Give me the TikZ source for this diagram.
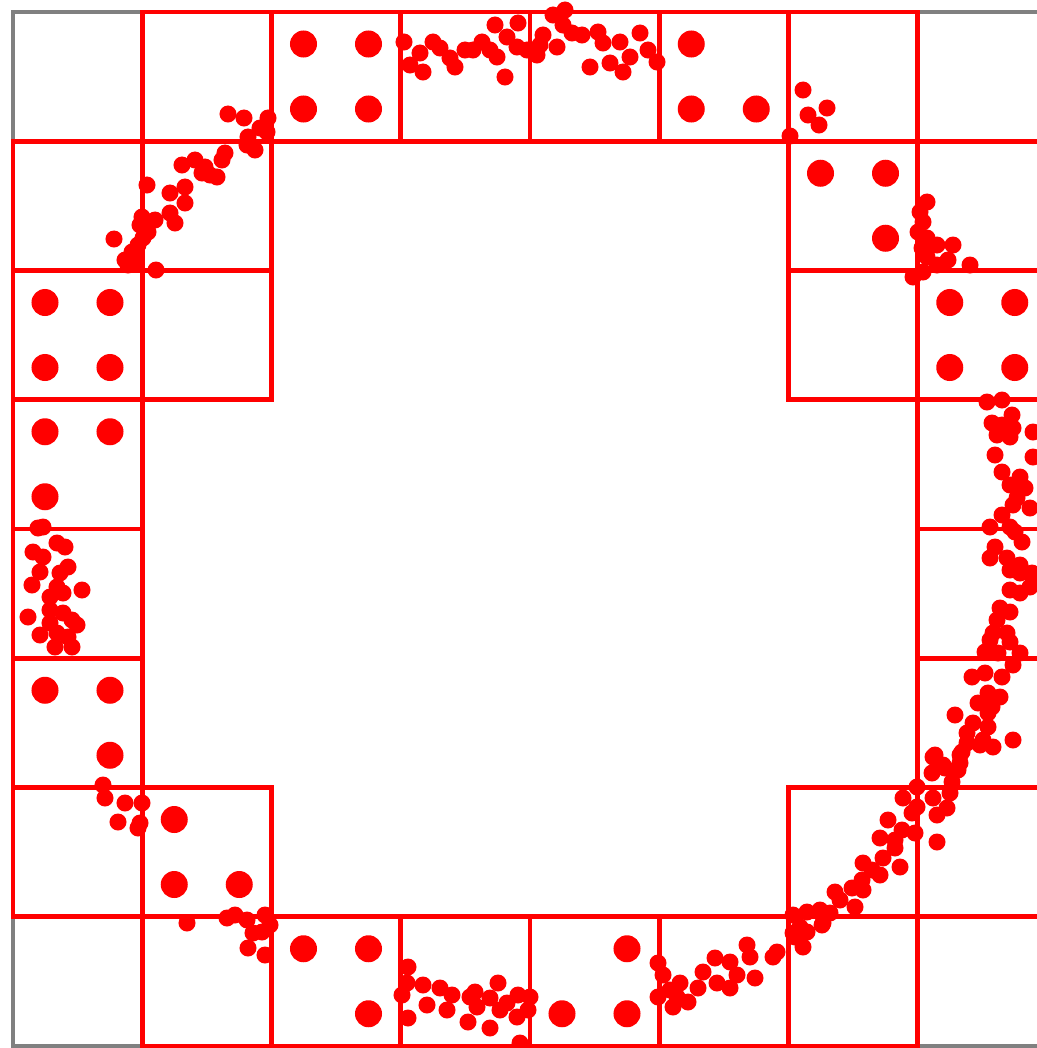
\documentclass[tikz,border=0pt]{standalone}
\usepackage{tikz}
\definecolor{ringRed}{RGB}{255,0,0}
\definecolor{frameGray}{RGB}{128,128,128}

\begin{document}
\begin{tikzpicture}[
  x=0.01cm, y=-0.01cm,
  frame/.style={draw=frameGray, line width=1.3pt},
  cell/.style={draw=ringRed, line width=1.3pt},
  bigdot/.style={fill=ringRed},
  smalldot/.style={fill=ringRed},
]

\useasboundingbox (0,0) rectangle (1037,1048);
\clip (0,0) rectangle (1037,1048);

\draw[frame] (13,12) rectangle (1047,1046);

\foreach \c/\r in {1/0,2/0,3/0,4/0,5/0,6/0,
  0/1,1/1,6/1,7/1, 0/2,1/2,6/2,7/2,
  0/3,7/3, 0/4,7/4, 0/5,7/5,
  0/6,1/6,6/6,7/6,
  1/7,2/7,3/7,4/7,5/7,6/7}
  \draw[cell] ({13+129.25*\c},{12+129.25*\r}) rectangle ++(129.25,129.25);

\foreach \c/\r/\a/\b in {2/0/0/0,2/0/1/0,2/0/0/1,2/0/1/1,
  5/0/0/0,5/0/0/1,5/0/1/1,
  6/1/0/0,6/1/1/0,6/1/1/1,
  0/2/0/0,0/2/1/0,0/2/0/1,0/2/1/1,
  7/2/0/0,7/2/1/0,7/2/0/1,7/2/1/1,
  0/3/0/0,0/3/1/0,0/3/0/1,
  0/5/0/0,0/5/1/0,0/5/1/1,
  1/6/0/0,1/6/0/1,1/6/1/1,
  2/7/0/0,2/7/1/0,2/7/1/1,
  4/7/1/0,4/7/0/1,4/7/1/1}
  \fill[bigdot] ({13+129.25*\c+32+65*\a},{12+129.25*\r+32+65*\b}) circle[radius=0.135cm];

% top
\foreach \px/\py in {404/42,410/65,420/53,423/72,433/42,440/48,450/58,455/67,
  465/50,473/50,482/42,490/50,495/25,497/57,505/77,507/37,518/23,517/47,
  527/50,540/45,537/55,543/35,553/15,565/10,563/25,557/47,572/33,582/35,
  590/67,598/32,603/43,610/63,620/42,623/72,630/57,640/33,648/50,657/62}
  \fill[smalldot] (\px,\py) circle[radius=0.085cm];

% top left
\foreach \px/\py in {228/114,244/118,268/118,260/128,248/137,247/145,255/150,
  267/132,225/153,222/160,195/160,182/165,205/167,210/175,217/177,202/173,
  185/187,170/193,185/203,147/185,170/213,175/223,155/220,142/217,140/225,
  148/232,143/238,138/245,132/252,114/239,125/260,135/262,128/265,156/270}
  \fill[smalldot] (\px,\py) circle[radius=0.085cm];

% top right
\foreach \px/\py in {803/90,827/108,808/115,819/125,790/136,
  927/202,920/212,923/222,918/232,927/238,937/245,953/245,922/248,
  927/257,948/260,937/265,970/265,913/277,923/272}
  \fill[smalldot] (\px,\py) circle[radius=0.085cm];

% right
\foreach \px/\py in {987/402,1002/400,1012/415,992/423,1002/425,1013/428,
  997/435,1010/437,1033/432,995/455,1033/457,1002/472,1020/477,1010/485,
  1025/488,1017/498,1013/505,1030/508,1002/515,990/527,1010/527,1015/532,
  995/547,1022/542,990/558,1007/558,1020/565,1032/573,
  1010/570,1020/573,1033/577,1010/590,1020/593,1030/587,1000/608,1010/612,
  997/620,993/633,1007/633,990/640,1010/642,985/652,998/653,1020/653,
  1013/665,972/677,985/673,1002/677,988/693,1000/697,978/703,992/707,
  988/713,955/715,973/723,988/727,967/733,983/740,1013/740,993/747,
  962/752,935/755,943/765,960/763}
  \fill[smalldot] (\px,\py) circle[radius=0.085cm];

% bottom right
\foreach \px/\py in {967/743,980/745,933/757,960/755,945/768,932/773,958/770,
  952/782,917/787,903/798,933/798,950/793,917/807,947/808,912/813,937/815,
  888/820,902/830,915/833,880/838,895/840,937/842,895/848,883/858,863/863,
  900/867,872/870,880/875,862/880,835/892,852/888,863/890,840/900,855/907,
  820/910,807/912,830/913,793/915,823/923,800/927,807/932,795/937,
  658/963,663/975,658/997,670/990,680/983,677/997,673/1007,688/1002,
  698/988,703/972,717/983,715/958,730/962,730/988,737/975,747/945,
  750/957,755/978,773/957,777/952,803/947,822/925,793/933}
  \fill[smalldot] (\px,\py) circle[radius=0.085cm];

% bottom
\foreach \px/\py in {408/967,402/995,407/983,423/985,408/1018,427/1005,
  440/988,452/995,447/1010,470/997,468/1022,475/992,477/1007,490/998,
  490/1028,498/983,500/1010,507/1003,518/995,517/1017,530/997,528/1010,
  520/1043}
  \fill[smalldot] (\px,\py) circle[radius=0.085cm];

% bottom left
\foreach \px/\py in {103/785,105/798,125/803,142/803,118/822,140/823,138/828,
  187/923,227/918,235/915,247/920,265/915,270/925,253/933,262/932,
  248/948,265/955}
  \fill[smalldot] (\px,\py) circle[radius=0.085cm];

% left
\foreach \px/\py in {38/528,43/527,57/543,65/547,33/552,43/557,40/572,68/567,
  60/573,32/585,57/587,82/590,63/593,50/597,28/617,50/610,63/613,72/620,
  50/623,77/625,40/635,57/633,68/637,55/647,72/647}
  \fill[smalldot] (\px,\py) circle[radius=0.085cm];

\end{tikzpicture}
\end{document}
